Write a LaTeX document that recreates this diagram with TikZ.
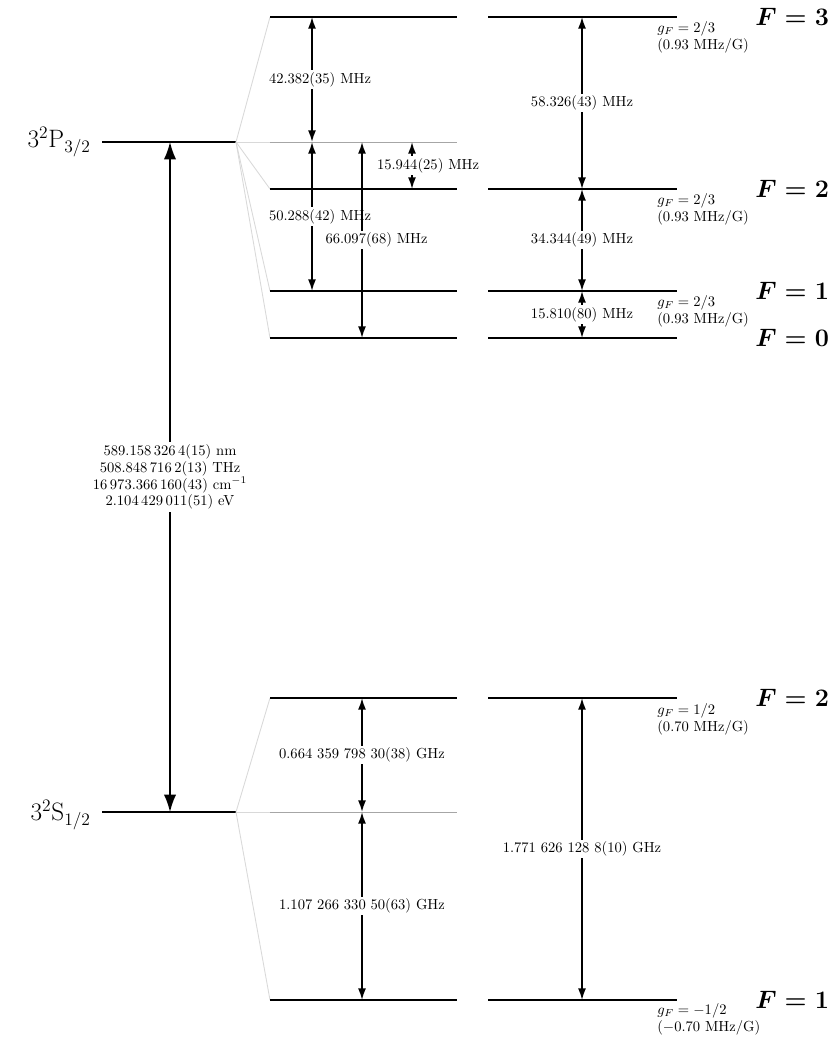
\documentclass[tikz,border=0pt]{standalone}
\usetikzlibrary{arrows.meta}
\usetikzlibrary{calc}

\begin{document}
\begin{tikzpicture}[ x                 = 0.686pt
                   , y                 = -0.686pt
                   , font              = \normalsize
                   % Use latex style arrows
                   , >={Latex[width=5.5pt, length=8pt]}
                   ]

  %%
  %% Line types
  %%
  \tikzset{ level/.style={line width=1.4pt}
          , virtual/.style={black!35, line width=0.6pt}
          , fan/.style={black!15, line width=0.6pt}
          , split/.style={<->, line width=1.1pt}
          , optical/.style={{Latex[width=8.5pt, length=12pt]}-{Latex[width=8.5pt, length=12pt]}, line width=1.1pt}
          }

  %%
  %% Label types
  %%
  \tikzset{ freq/.style={fill=white, inner sep=1.5pt}
          , gfac/.style={anchor=north west, align=left, inner sep=0pt}
          , fnum/.style={anchor=west, inner sep=0pt, font=\LARGE\boldmath}
          , term/.style={anchor=east, inner sep=0pt, font=\LARGE}
          }

  \useasboundingbox (0,0) rectangle (830,1041);

  %%
  %% Columns of the arrows
  %%
  \coordinate (cfine)  at (170,0);
  \coordinate (cleft)  at (312,0);
  \coordinate (cmid)   at (362,0);
  \coordinate (cthin)  at (412,0);
  \coordinate (cright) at (582,0);

  %%
  %% Levels
  %%
  \coordinate (p)  at (102,142);
  \coordinate (pe) at (236,142);
  \coordinate (s)  at (102,812);
  \coordinate (se) at (236,812);

  \coordinate (p3) at (270,17);
  \coordinate (pc) at (270,142);
  \coordinate (p2) at (270,189);
  \coordinate (p1) at (270,291);
  \coordinate (p0) at (270,338);
  \coordinate (s2) at (270,698);
  \coordinate (sc) at (270,812);
  \coordinate (s1) at (270,1000);

  \draw[level] (p) -- (pe);
  \draw[level] (s) -- (se);

  \foreach \lv in {p3,pc,p2,p1,p0}
    \draw[fan] (pe) -- (\lv);
  \foreach \lv in {s2,sc,s1}
    \draw[fan] (se) -- (\lv);

  \draw[virtual] (pc) -- ++(187,0);
  \draw[virtual] (sc) -- ++(187,0);

  \foreach \lv in {p3,p2,p1,p0,s2,s1}
    \draw[level] (\lv) -- ++(187,0) ++(31,0) -- ++(189,0);

  %%
  %% Term and F labels
  %%
  \node (pterm) [term] at (91,142) {$3^2\mathrm{P}_{3/2}$};
  \node (sterm) [term] at (91,815) {$3^2\mathrm{S}_{1/2}$};

  \node (fp3) [fnum] at (755,17)   {$F = 3$};
  \node (fp2) [fnum] at (755,189)  {$F = 2$};
  \node (fp1) [fnum] at (755,291)  {$F = 1$};
  \node (fp0) [fnum] at (755,338)  {$F = 0$};
  \node (fs2) [fnum] at (755,698)  {$F = 2$};
  \node (fs1) [fnum] at (755,1000) {$F = 1$};

  \node (gp3) [gfac] at (657,21)   {$g_F = 2/3$\\(0.93 MHz/G)};
  \node (gp2) [gfac] at (657,193)  {$g_F = 2/3$\\(0.93 MHz/G)};
  \node (gp1) [gfac] at (657,295)  {$g_F = 2/3$\\(0.93 MHz/G)};
  \node (gs2) [gfac] at (657,703)  {$g_F = 1/2$\\(0.70 MHz/G)};
  \node (gs1) [gfac] at (657,1003) {$g_F = -1/2$\\($-$0.70 MHz/G)};

  %%
  %% Splittings
  %%
  \draw[optical] (pe -| cfine) -- node[freq, align=center]
    {589.158\,326\,4(15) nm\\[-0.5pt]
     508.848\,716\,2(13) THz\\[-0.5pt]
     16\,973.366\,160(43) cm$^{-1}$\\[-0.5pt]
     2.104\,429\,011(51) eV} (se -| cfine);

  %%% Excited state
  \draw[split] (p3 -| cleft) -- node[freq, xshift=5.5pt] {42.382(35)~MHz} (pc -| cleft);
  \draw[split] (pc -| cleft) -- node[freq, xshift=5.5pt] {50.288(42)~MHz} (p1 -| cleft);
  \draw[split] (pc -| cmid)  -- node[freq, xshift=10pt]  {66.097(68)~MHz} (p0 -| cmid);
  \draw[split] (pc -| cthin) -- node[freq, xshift=11pt]  {15.944(25)~MHz} (p2 -| cthin);

  \draw[split] (p3 -| cright) -- node[freq] {58.326(43)~MHz} (p2 -| cright);
  \draw[split] (p2 -| cright) -- node[freq] {34.344(49)~MHz} (p1 -| cright);
  \draw[split] (p1 -| cright) -- node[freq] {15.810(80)~MHz} (p0 -| cright);

  %%% Ground state
  \draw[split] (s2 -| cmid) -- node[freq] {0.664 359 798 30(38)~GHz} (sc -| cmid);
  \draw[split] (sc -| cmid) -- node[freq] {1.107 266 330 50(63)~GHz} (s1 -| cmid);
  \draw[split] (s2 -| cright) -- node[freq] {1.771 626 128 8(10)~GHz} (s1 -| cright);

\end{tikzpicture}
\end{document}
